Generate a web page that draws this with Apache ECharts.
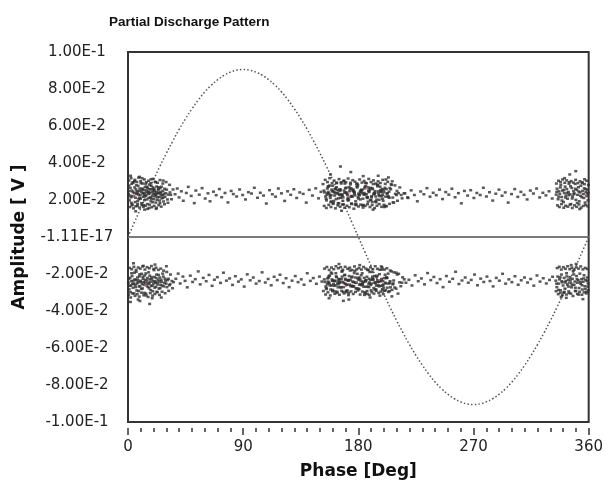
<!DOCTYPE html>
<html>
<head>
<meta charset="utf-8">
<script src="https://cdn.jsdelivr.net/npm/echarts@6/dist/echarts.min.js"></script>
<style>html,body{margin:0;padding:0;background:#fff}#c{width:606px;height:486px}</style>
</head>
<body>
<div id="c"></div>
<script>
// ---- tick labels ----
const xTickLabels = ['0','90','180','270','360'];
const yTickLabels = ['-1.00E-1','-8.00E-2','-6.00E-2','-4.00E-2','-2.00E-2','-1.11E-17','2.00E-2','4.00E-2','6.00E-2','8.00E-2','1.00E-1'];

// ---- reference sine (phase deg, amplitude V) ----
const sinePhase = [0,5,10,15,20,25,30,35,40,45,50,55,60,65,70,75,80,85,90,95,100,105,110,115,120,125,130,135,140,145,150,155,160,165,170,175,180,185,190,195,200,205,210,215,220,225,230,235,240,245,250,255,260,265,270,275,280,285,290,295,300,305,310,315,320,325,330,335,340,345,350,355,360];
const sineAmp = [0,.0079,.0157,.0234,.0310,.0383,.0453,.0519,.0582,.0640,.0693,.0741,.0784,.0820,.0850,.0874,.0891,.0902,.0905,.0902,.0891,.0874,.0850,.0820,.0784,.0741,.0693,.0640,.0582,.0519,.0453,.0383,.0310,.0234,.0157,.0079,0,
-.0079,-.0157,-.0234,-.0310,-.0383,-.0453,-.0519,-.0582,-.0640,-.0693,-.0741,-.0784,-.0820,-.0850,-.0874,-.0891,-.0902,-.0905,-.0902,-.0891,-.0874,-.0850,-.0820,-.0784,-.0741,-.0693,-.0640,-.0582,-.0519,-.0453,-.0383,-.0310,-.0234,-.0157,-.0079,0];

// ---- zero line ----
const zeroLine = [[0,0],[360,0]];

// ---- positive discharges, phase 0-36 ----
const p1 = [[0.4,.0232],[1.1,.0198],[1.8,.0265],[2.3,.0214],[2.9,.0287],[3.4,.0176],[3.8,.0243],[4.5,.0221],[5.1,.0302],[5.6,.0189],[6.2,.0257],[6.7,.0233],[7.3,.0168],[7.9,.0276],[8.4,.0205],[8.8,.0249],[9.5,.0228],[10.1,.0291],[10.6,.0183],[11.2,.0262],[11.7,.0217],[12.3,.0239],[12.9,.0199],[13.4,.0271],[14.0,.0226],[14.6,.0254],[15.1,.0178],[15.7,.0244],[16.2,.0211],[16.8,.0283],[17.3,.0236],[17.9,.0193],[18.5,.0259],[19.0,.0222],[19.6,.0268],[20.2,.0204],[20.7,.0247],[21.3,.0231],[21.8,.0186],[22.4,.0273],[23.0,.0215],[23.5,.0252],[24.1,.0238],[24.7,.0197],[25.2,.0264],[25.8,.0226],[26.5,.0209],[27.3,.0249],[28.1,.0233],[29.0,.0218],[30.2,.0256],[31.5,.0229],[32.8,.0241],
[0.8,.0278],[1.5,.0224],[2.6,.0185],[3.1,.0251],[4.1,.0296],[4.9,.0238],[5.9,.0212],[6.5,.0281],[7.0,.0247],[7.6,.0194],[8.1,.0229],[9.2,.0262],[9.8,.0207],[10.4,.0245],[11.0,.0318],[11.5,.0236],[12.1,.0172],[12.6,.0255],[13.2,.0219],[13.8,.0288],[14.3,.0241],[14.9,.0203],[15.4,.0266],[16.0,.0232],[16.5,.0157],[17.1,.0258],[17.6,.0214],[18.2,.0277],[18.8,.0245],[19.3,.0188],[19.9,.0234],[20.5,.0261],[21.0,.0219],[21.6,.0296],[22.1,.0242],[22.7,.0201],[23.3,.0236],[23.8,.0269],[24.4,.0216],[25.0,.0183],[25.5,.0244],[26.1,.0272],[27.0,.0225],[27.8,.0192],[28.6,.0261],[29.5,.0237],[30.8,.0203],[33.4,.0228],
[2.0,.0331],[6.0,.0139],[9.0,.0325],[13.0,.0148],[18.0,.0312],[22.0,.0152],[27.5,.0305]];
const p1Edge = [[0.7,.0305],[1.4,.0162],[2.4,.0318],[3.0,.0171],[3.7,.0294],[4.3,.0155],[5.4,.0309],[6.0,.0166],[6.9,.0298],[7.5,.0178],[8.3,.0321],[9.0,.0159],[9.9,.0302],[10.8,.0174],[11.4,.0289],[12.0,.0163],[12.8,.0311],[13.6,.0169],[14.4,.0296],[15.3,.0152],[16.1,.0304],[16.9,.0175],[17.7,.0291],[18.6,.0161],[19.5,.0314],[20.4,.0168],[21.2,.0299],[22.2,.0158],[23.1,.0293],[24.0,.0172],[25.0,.0308],[26.0,.0164],[27.2,.0289],[28.5,.0177],[29.8,.0297],[31.2,.0185],[32.5,.0282],[34.0,.0204],[35.2,.0257],
[1.0,.0248],[3.6,.0221],[5.2,.0268],[7.2,.0239],[9.0,.0213],[10.9,.0256],[12.7,.0229],[14.7,.0272],[16.3,.0244],[18.3,.0207],[20.1,.0253],[21.9,.0228],[23.7,.0261],[25.6,.0236],[27.4,.0212]];

// ---- positive discharges, phase 152-218 ----
const p2Phase = [153.6,155.1,156.3,157.9,159.2,160.4,161.8,163.1,164.5,165.7,167.2,168.4,169.9,171.2,172.5,173.8,175.3,176.6,177.9,179.1,180.6,181.9,183.2,184.6,185.8,187.3,188.5,189.9,191.2,192.6,193.9,195.2,196.7,198.0,199.4,200.8,202.3,204.1,206.5,209.8,
154.4,155.8,157.2,158.5,159.9,161.2,162.6,163.8,165.1,166.5,167.9,169.2,170.5,171.9,173.2,174.6,175.9,177.3,178.6,180.0,181.3,182.7,184.0,185.2,186.7,188.0,189.4,190.7,192.0,193.4,194.7,196.1,197.4,198.8,200.1,201.6,203.2,205.3,207.7,211.4,
153.1,154.8,156.0,157.5,158.9,160.1,161.5,162.9,164.2,165.4,166.8,168.1,169.5,170.8,172.1,173.5,174.8,176.2,177.5,178.9,180.2,181.5,182.9,184.3,185.5,186.9,188.2,189.6,190.9,192.3,193.6,195.0,196.3,197.7,199.0,200.4,201.9,203.7,206.0,208.9,
155.4,156.7,158.1,159.5,160.8,162.2,163.5,164.8,166.1,167.5,168.8,170.2,171.5,172.8,174.2,175.6,176.9,178.2,179.6,180.9,182.3,183.6,184.9,186.3,187.6,189.0,190.3,191.6,193.0,194.3,195.7,197.0,198.4,199.7,201.1,202.8,204.6,206.9,210.2,213.5];
const p2Amp = [.0241,.0198,.0272,.0223,.0256,.0184,.0237,.0291,.0209,.0249,.0226,.0176,.0263,.0232,.0203,.0284,.0218,.0245,.0193,.0268,.0229,.0252,.0171,.0238,.0275,.0214,.0247,.0201,.0259,.0233,.0188,.0281,.0221,.0243,.0196,.0266,.0235,.0212,.0301,.0227,
.0219,.0262,.0234,.0189,.0277,.0243,.0205,.0253,.0228,.0296,.0196,.0239,.0267,.0213,.0248,.0181,.0257,.0225,.0287,.0208,.0244,.0236,.0173,.0271,.0217,.0251,.0199,.0264,.0231,.0192,.0283,.0226,.0254,.0207,.0242,.0311,.0221,.0258,.0186,.0237,
.0251,.0207,.0236,.0278,.0192,.0246,.0224,.0269,.0183,.0258,.0231,.0214,.0289,.0239,.0197,.0261,.0222,.0248,.0176,.0273,.0234,.0203,.0255,.0228,.0292,.0211,.0243,.0265,.0189,.0237,.0219,.0274,.0201,.0247,.0229,.0162,.0259,.0216,.0282,.0233,
.0229,.0274,.0211,.0248,.0195,.0262,.0237,.0182,.0256,.0224,.0305,.0241,.0203,.0269,.0218,.0252,.0234,.0178,.0279,.0226,.0245,.0207,.0263,.0231,.0191,.0258,.0215,.0286,.0239,.0202,.0247,.0272,.0221,.0255,.0168,.0236,.0265,.0213,.0249,.0227];
const p2Out = [[158.3,.0338],[166.9,.0142],[174.1,.0351],[183.8,.0329],[191.5,.0148],[203.5,.0322],[215.7,.0236],[218.4,.0214],[166.0,.0381],[195.5,.0331]];
const p2Edge = [[152.4,.0286],[153.3,.0168],[154.1,.0309],[155.0,.0157],[155.9,.0297],[156.9,.0174],[157.6,.0318],[158.6,.0162],[159.5,.0291],[160.3,.0179],[161.1,.0305],[162.1,.0155],[163.0,.0294],[163.9,.0171],[164.9,.0313],[165.8,.0164],[166.6,.0289],[167.6,.0176],[168.5,.0302],[169.3,.0158],[170.3,.0296],[171.1,.0169],[172.0,.0316],[172.9,.0161],[173.9,.0293],[174.7,.0178],[175.6,.0307],[176.5,.0153],[177.4,.0299],[178.3,.0172],[179.2,.0288],[180.1,.0165],[181.0,.0311],[181.8,.0175],[182.8,.0294],[183.7,.0159],[184.5,.0303],[185.4,.0168],[186.4,.0291],[187.2,.0177],[188.1,.0314],[189.1,.0162],[189.9,.0297],[190.8,.0173],[191.8,.0306],[192.7,.0156],[193.5,.0289],[194.5,.0169],[195.4,.0301],[196.3,.0178],[197.2,.0292],[198.2,.0163],[199.1,.0309],[200.0,.0174],[201.0,.0287],[202.0,.0166],[203.0,.0298],[204.3,.0179],[205.6,.0285],[207.1,.0187],[208.6,.0279],[210.6,.0196],[212.4,.0268],[214.2,.0209],
[156.5,.0244],[158.8,.0226],[161.6,.0258],[164.0,.0235],[166.2,.0212],[168.9,.0251],[171.6,.0229],[174.4,.0263],[177.0,.0241],[179.8,.0216],[182.5,.0255],[185.0,.0232],[187.8,.0268],[190.4,.0221],[193.1,.0248],[195.8,.0236],[198.6,.0259],[201.3,.0218],[204.0,.0245]];

// ---- positive discharges, phase 334-360 ----
const p3 = [[334.6,.0229],[335.3,.0261],[336.1,.0204],[336.8,.0247],[337.4,.0233],[338.2,.0282],[338.9,.0216],[339.5,.0251],[340.3,.0189],[340.9,.0238],[341.6,.0272],[342.2,.0224],[342.9,.0259],[343.5,.0207],[344.2,.0243],[344.8,.0296],[345.5,.0231],[346.1,.0178],[346.8,.0265],[347.4,.0219],[348.1,.0248],[348.7,.0236],[349.4,.0287],[350.0,.0201],[350.7,.0254],[351.3,.0228],[352.0,.0269],[352.6,.0193],[353.3,.0241],[353.9,.0277],[354.6,.0215],[355.2,.0249],[355.9,.0232],[356.5,.0263],[357.2,.0186],[357.8,.0244],[358.5,.0221],[359.1,.0256],[359.6,.0238],
[335.0,.0244],[336.5,.0218],[337.9,.0268],[339.1,.0197],[340.6,.0255],[341.9,.0213],[343.2,.0238],[344.5,.0226],[345.8,.0274],[347.1,.0208],[348.4,.0231],[349.7,.0261],[351.0,.0184],[352.3,.0246],[353.6,.0223],[354.9,.0291],[356.2,.0211],[357.5,.0259],[358.8,.0234],[359.4,.0198],
[345.2,.0338],[349.9,.0356],[353.0,.0151],[341.2,.0318],[356.8,.0312]];
const p3Edge = [[334.8,.0289],[335.6,.0171],[336.4,.0304],[337.1,.0162],[338.0,.0297],[338.8,.0178],[339.6,.0311],[340.5,.0158],[341.3,.0293],[342.0,.0169],[342.8,.0306],[343.7,.0164],[344.6,.0288],[345.4,.0175],[346.3,.0302],[347.2,.0157],[348.0,.0294],[348.9,.0171],[349.8,.0309],[350.6,.0163],[351.5,.0291],[352.4,.0176],[353.2,.0301],[354.1,.0159],[355.0,.0296],[355.8,.0168],[356.7,.0286],[357.6,.0173],[358.4,.0304],[359.2,.0166],[359.8,.0281]];

// ---- positive discharges, sparse band ----
const pSparse = [[36.8,.0231],[38.5,.0262],[39.9,.0214],[41.7,.0247],[43.2,.0196],[45.6,.0238],[47.1,.0271],[49.4,.0222],[51.8,.0183],[53.0,.0251],[55.7,.0229],[57.9,.0264],[60.3,.0208],[62.5,.0236],[64.1,.0193],[66.8,.0245],[68.9,.0226],[71.4,.0259],[73.2,.0215],[75.8,.0238],[78.1,.0187],[80.6,.0249],[82.3,.0232],[84.9,.0219],[87.2,.0257],[89.6,.0227],[91.8,.0203],[94.1,.0242],[96.5,.0235],[98.7,.0266],[101.2,.0212],[103.4,.0239],[105.9,.0224],[108.1,.0181],[110.6,.0253],[112.8,.0231],[115.3,.0218],[117.5,.0262],[119.9,.0236],[122.4,.0195],[124.7,.0247],[127.1,.0228],[129.6,.0258],[131.8,.0211],[134.2,.0241],[136.9,.0233],[139.3,.0186],[141.6,.0255],[144.1,.0224],[146.7,.0263],[148.9,.0209],[150.8,.0244],
[216.4,.0236],[218.9,.0211],[221.3,.0252],[223.8,.0227],[226.1,.0193],[228.7,.0246],[231.2,.0231],[233.6,.0264],[236.0,.0218],[238.5,.0239],[240.9,.0226],[243.4,.0256],[245.8,.0205],[248.3,.0243],[250.7,.0229],[253.1,.0261],[255.6,.0215],[258.2,.0237],[260.5,.0182],[262.9,.0249],[265.4,.0224],[267.8,.0253],[270.3,.0211],[272.6,.0238],[275.2,.0227],[277.7,.0266],[280.1,.0219],[282.5,.0242],[285.0,.0197],[287.4,.0234],[289.9,.0256],[292.3,.0223],[294.8,.0241],[297.1,.0186],[299.7,.0232],[302.2,.0259],[304.6,.0217],[307.0,.0244],[309.5,.0228],[311.9,.0203],[314.4,.0251],[316.8,.0235],[319.3,.0262],[321.7,.0214],[324.2,.0239],[326.6,.0225],[329.0,.0247],[331.5,.0208]];

// ---- negative discharges, phase 0-36 ----
const n1 = [[0.3,-.0247],[0.9,-.0283],[1.6,-.0221],[2.2,-.0262],[2.8,-.0196],[3.5,-.0254],[4.0,-.0236],[4.7,-.0305],[5.3,-.0229],[5.9,-.0271],[6.4,-.0188],[7.1,-.0251],[7.7,-.0234],[8.2,-.0292],[8.9,-.0213],[9.4,-.0266],[10.0,-.0243],[10.7,-.0199],[11.3,-.0278],[11.8,-.0226],[12.5,-.0259],[13.1,-.0208],[13.6,-.0247],[14.2,-.0316],[14.8,-.0235],[15.5,-.0269],[16.1,-.0191],[16.6,-.0253],[17.2,-.0228],[17.8,-.0287],[18.4,-.0217],[19.1,-.0262],[19.7,-.0239],[20.3,-.0179],[20.9,-.0274],[21.5,-.0248],[22.0,-.0222],[22.6,-.0296],[23.2,-.0257],[23.9,-.0205],[24.5,-.0241],[25.1,-.0276],[25.9,-.0231],[26.7,-.0263],[27.6,-.0214],[28.4,-.0249],[29.3,-.0236],[30.4,-.0271],[31.6,-.0226],[32.9,-.0255],[34.3,-.0238],
[0.6,-.0226],[1.3,-.0264],[2.0,-.0298],[2.6,-.0239],[3.2,-.0211],[3.9,-.0274],[4.4,-.0251],[5.0,-.0193],[5.7,-.0258],[6.1,-.0233],[6.8,-.0289],[7.4,-.0219],[8.0,-.0245],[8.6,-.0268],[9.1,-.0202],[9.7,-.0237],[10.4,-.0281],[11.0,-.0253],[11.6,-.0215],[12.2,-.0244],[12.8,-.0302],[13.4,-.0232],[13.9,-.0197],[14.5,-.0261],[15.2,-.0222],[15.8,-.0248],[16.4,-.0277],[17.0,-.0209],[17.5,-.0242],[18.1,-.0265],[18.7,-.0228],[19.4,-.0293],[20.0,-.0251],[20.6,-.0216],[21.2,-.0239],[21.8,-.0269],[22.3,-.0203],[22.9,-.0246],[23.6,-.0231],[24.2,-.0279],[24.8,-.0219],[25.5,-.0258],[26.3,-.0242],[27.1,-.0198],[28.0,-.0267],[28.9,-.0225],[29.8,-.0252],[31.0,-.0233],[32.3,-.0261],[35.6,-.0244],
[1.9,-.0351],[4.3,-.0142],[7.9,-.0338],[12.0,-.0156],[16.9,-.0362],[21.1,-.0149],[26.0,-.0327],[9.3,-.0346],[18.9,-.0331],[30.0,-.0158]];
const n1Edge = [[0.5,-.0312],[1.2,-.0167],[2.1,-.0327],[2.9,-.0174],[3.6,-.0305],[4.6,-.0161],[5.5,-.0318],[6.3,-.0178],[7.2,-.0309],[8.0,-.0165],[8.8,-.0322],[9.6,-.0171],[10.5,-.0301],[11.4,-.0159],[12.3,-.0315],[13.2,-.0176],[14.0,-.0306],[14.9,-.0163],[15.7,-.0324],[16.7,-.0169],[17.4,-.0303],[18.3,-.0157],[19.2,-.0317],[20.1,-.0173],[21.0,-.0308],[21.9,-.0166],[22.8,-.0299],[23.7,-.0178],[24.6,-.0313],[25.6,-.0171],[26.6,-.0296],[27.8,-.0182],[29.0,-.0304],[30.3,-.0189],[31.8,-.0291],[33.2,-.0203],[34.8,-.0277]];

// ---- negative discharges, phase 152-215 ----
const n2Phase = [153.9,155.2,156.6,157.8,159.3,160.6,162.0,163.3,164.7,166.0,167.4,168.7,170.1,171.4,172.8,174.0,175.5,176.8,178.1,179.5,180.8,182.2,183.5,184.8,186.2,187.5,188.9,190.2,191.6,192.9,194.3,195.6,197.0,198.3,199.7,201.0,202.5,204.4,206.8,210.3,
154.6,156.0,157.3,158.7,160.0,161.4,162.7,164.1,165.4,166.8,168.1,169.5,170.8,172.2,173.5,174.9,176.2,177.6,178.9,180.3,181.6,183.0,184.3,185.7,187.0,188.4,189.7,191.1,192.4,193.8,195.1,196.5,197.8,199.2,200.5,202.0,203.8,205.9,208.4,212.2,
153.4,154.9,156.3,157.6,159.0,160.3,161.7,163.0,164.4,165.7,167.1,168.4,169.8,171.1,172.5,173.8,175.2,176.5,177.9,179.2,180.6,181.9,183.3,184.6,186.0,187.3,188.7,190.0,191.4,192.7,194.1,195.4,196.8,198.1,199.5,200.9,202.6,204.8,207.3,209.6,
155.7,157.0,158.4,159.7,161.1,162.4,163.8,165.1,166.5,167.8,169.2,170.5,171.9,173.2,174.6,175.9,177.3,178.6,180.0,181.3,182.7,184.0,185.4,186.7,188.1,189.4,190.8,192.1,193.5,194.8,196.2,197.5,198.9,200.2,201.7,203.3,205.1,207.6,211.0,214.1];
const n2Amp = [-.0243,-.0281,-.0219,-.0262,-.0198,-.0254,-.0236,-.0302,-.0227,-.0271,-.0184,-.0249,-.0232,-.0289,-.0211,-.0266,-.0241,-.0195,-.0277,-.0224,-.0258,-.0207,-.0246,-.0313,-.0233,-.0268,-.0189,-.0252,-.0229,-.0284,-.0216,-.0261,-.0238,-.0176,-.0274,-.0247,-.0221,-.0293,-.0256,-.0203,
-.0267,-.0224,-.0251,-.0192,-.0286,-.0239,-.0213,-.0272,-.0248,-.0228,-.0297,-.0205,-.0258,-.0236,-.0181,-.0263,-.0244,-.0219,-.0279,-.0231,-.0254,-.0196,-.0269,-.0241,-.0308,-.0226,-.0259,-.0214,-.0247,-.0283,-.0234,-.0201,-.0264,-.0238,-.0291,-.0218,-.0252,-.0186,-.0273,-.0245,
-.0229,-.0276,-.0241,-.0208,-.0262,-.0235,-.0294,-.0217,-.0256,-.0244,-.0187,-.0271,-.0226,-.0259,-.0302,-.0233,-.0214,-.0266,-.0248,-.0199,-.0282,-.0237,-.0255,-.0221,-.0269,-.0178,-.0246,-.0288,-.0231,-.0211,-.0263,-.0242,-.0317,-.0227,-.0257,-.0204,-.0274,-.0239,-.0251,-.0193,
-.0255,-.0212,-.0284,-.0237,-.0264,-.0196,-.0249,-.0228,-.0273,-.0243,-.0206,-.0291,-.0234,-.0257,-.0219,-.0268,-.0183,-.0246,-.0279,-.0225,-.0261,-.0241,-.0299,-.0215,-.0253,-.0232,-.0189,-.0276,-.0244,-.0209,-.0267,-.0238,-.0285,-.0222,-.0251,-.0198,-.0272,-.0235,-.0306,-.0247];
const n2Out = [[157.1,-.0331],[164.9,-.0146],[172.6,-.0338],[181.1,-.0152],[189.2,-.0327],[197.9,-.0159],[206.2,-.0321],[215.9,-.0229],[168.3,-.0345]];
const n2Edge = [[152.7,-.0292],[153.6,-.0171],[154.4,-.0311],[155.4,-.0162],[156.2,-.0299],[157.2,-.0178],[158.1,-.0316],[159.0,-.0165],[159.8,-.0293],[160.8,-.0174],[161.6,-.0307],[162.5,-.0158],[163.5,-.0296],[164.3,-.0169],[165.2,-.0312],[166.2,-.0163],[167.0,-.0291],[167.9,-.0177],[168.9,-.0305],[169.7,-.0161],[170.6,-.0298],[171.6,-.0172],[172.3,-.0314],[173.3,-.0166],[174.3,-.0294],[175.1,-.0179],[176.0,-.0308],[177.0,-.0159],[177.8,-.0297],[178.7,-.0175],[179.7,-.0289],[180.5,-.0168],[181.4,-.0311],[182.4,-.0176],[183.2,-.0295],[184.1,-.0162],[185.1,-.0304],[185.9,-.0171],[186.8,-.0292],[187.8,-.0178],[188.6,-.0313],[189.5,-.0164],[190.5,-.0298],[191.3,-.0174],[192.2,-.0306],[193.2,-.0158],[194.0,-.0291],[194.9,-.0172],[195.9,-.0302],[196.8,-.0177],[197.6,-.0295],[198.6,-.0165],[199.5,-.0309],[200.4,-.0176],[201.4,-.0288],[202.3,-.0169],[203.5,-.0297],[204.9,-.0181],[206.3,-.0286],[207.9,-.0191],[209.5,-.0279],[211.5,-.0199],[213.2,-.0266],
[156.9,-.0246],[159.4,-.0229],[162.2,-.0261],[164.6,-.0238],[167.3,-.0214],[169.9,-.0253],[172.4,-.0232],[175.2,-.0266],[177.7,-.0244],[180.4,-.0219],[183.1,-.0257],[185.6,-.0235],[188.3,-.0271],[191.0,-.0224],[193.6,-.0251],[196.4,-.0239],[199.0,-.0262],[201.8,-.0222],[204.5,-.0248]];

// ---- negative discharges, phase 334-360 ----
const n3 = [[334.3,-.0236],[335.1,-.0271],[335.8,-.0214],[336.6,-.0252],[337.2,-.0229],[338.0,-.0288],[338.7,-.0203],[339.3,-.0245],[340.0,-.0262],[340.8,-.0221],[341.4,-.0279],[342.1,-.0238],[342.7,-.0196],[343.4,-.0256],[344.0,-.0231],[344.7,-.0303],[345.3,-.0217],[346.0,-.0249],[346.6,-.0272],[347.3,-.0226],[347.9,-.0184],[348.6,-.0258],[349.2,-.0241],[349.9,-.0293],[350.5,-.0211],[351.2,-.0247],[351.8,-.0234],[352.5,-.0276],[353.1,-.0198],[353.8,-.0253],[354.4,-.0228],[355.1,-.0284],[355.7,-.0242],[356.4,-.0207],[357.0,-.0266],[357.7,-.0233],[358.3,-.0297],[359.0,-.0219],[359.5,-.0251],
[334.9,-.0252],[336.3,-.0286],[337.7,-.0218],[339.0,-.0239],[340.4,-.0301],[341.7,-.0246],[343.0,-.0213],[344.3,-.0268],[345.7,-.0235],[347.0,-.0259],[348.3,-.0202],[349.6,-.0274],[350.9,-.0228],[352.2,-.0311],[353.5,-.0244],[354.8,-.0261],[356.1,-.0224],[357.4,-.0281],[358.7,-.0237],[359.3,-.0268],
[342.5,-.0329],[350.2,-.0146],[355.5,-.0336],[346.3,-.0152],[338.5,-.0324]];
const n3Edge = [[334.5,-.0293],[335.4,-.0168],[336.2,-.0309],[337.0,-.0161],[337.8,-.0301],[338.6,-.0176],[339.4,-.0314],[340.2,-.0163],[341.0,-.0297],[341.8,-.0172],[342.6,-.0311],[343.5,-.0158],[344.4,-.0294],[345.2,-.0174],[346.1,-.0306],[346.9,-.0166],[347.7,-.0319],[348.6,-.0177],[349.5,-.0291],[350.3,-.0164],[351.2,-.0308],[352.1,-.0171],[352.9,-.0296],[353.8,-.0159],[354.7,-.0312],[355.5,-.0175],[356.4,-.0299],[357.3,-.0167],[358.1,-.0305],[358.9,-.0173],[359.7,-.0289]];

// ---- negative discharges, sparse band ----
const nSparse = [[37.4,-.0226],[39.2,-.0198],[40.8,-.0251],[42.9,-.0214],[44.6,-.0237],[46.3,-.0272],[48.7,-.0209],[50.5,-.0243],[52.6,-.0228],[54.9,-.0186],[56.4,-.0256],[58.8,-.0221],[61.1,-.0239],[63.3,-.0205],[65.7,-.0264],[67.5,-.0231],[69.8,-.0217],[72.3,-.0248],[74.6,-.0193],[76.9,-.0236],[79.4,-.0224],[81.7,-.0259],[83.9,-.0212],[86.3,-.0241],[88.5,-.0229],[90.8,-.0268],[93.2,-.0202],[95.5,-.0234],[97.9,-.0219],[100.1,-.0252],[102.6,-.0238],[104.8,-.0191],[107.3,-.0246],[109.5,-.0227],[111.9,-.0261],[114.2,-.0215],[116.6,-.0233],[118.8,-.0204],[121.3,-.0249],[123.5,-.0223],[125.9,-.0271],[128.2,-.0236],[130.7,-.0211],[132.9,-.0244],[135.4,-.0229],[137.6,-.0258],[140.1,-.0196],[142.5,-.0237],[144.8,-.0222],[147.2,-.0253],[149.6,-.0214],[151.5,-.0241],
[214.6,-.0218],[217.2,-.0247],[219.5,-.0231],[221.9,-.0262],[224.4,-.0207],[226.8,-.0239],[229.3,-.0224],[231.7,-.0256],[234.1,-.0195],[236.6,-.0233],[239.0,-.0216],[241.5,-.0249],[243.9,-.0228],[246.2,-.0271],[248.8,-.0211],[251.2,-.0242],[253.7,-.0226],[256.0,-.0188],[258.6,-.0254],[261.0,-.0235],[263.5,-.0219],[265.9,-.0247],[268.2,-.0232],[270.8,-.0203],[273.1,-.0261],[275.6,-.0225],[278.0,-.0243],[280.5,-.0214],[282.9,-.0238],[285.3,-.0267],[287.8,-.0221],[290.2,-.0236],[292.7,-.0199],[295.1,-.0252],[297.6,-.0229],[300.0,-.0244],[302.4,-.0212],[304.9,-.0258],[307.3,-.0234],[309.8,-.0219],[312.2,-.0246],[314.7,-.0227],[317.1,-.0263],[319.6,-.0208],[322.0,-.0241],[324.5,-.0223],[326.9,-.0251],[329.4,-.0232],[331.8,-.0215]];

// ---- a few highlighted (pink) discharges ----
const pinkPts = [[4.5,.0222],[172.4,.0236],[186.1,.0262],[357.6,.0228],[13.8,-.0262],[170.2,-.0266],[178.5,-.0243],[196.3,-.0232]];

// ---- build ----
const zip = (ph, am) => ph.map((p, i) => [p, am[i]]);
const sineData = zip(sinePhase, sineAmp);
const discharges = [].concat(
  p1, p1Edge, zip(p2Phase, p2Amp), p2Out, p2Edge, p3, p3Edge, pSparse,
  n1, n1Edge, zip(n2Phase, n2Amp), n2Out, n2Edge, n3, n3Edge, nSparse);

const FONT = 'DejaVu Sans';
const chart = echarts.init(document.getElementById('c'), null, {renderer: 'canvas'});
chart.setOption({
  animation: false,
  backgroundColor: '#ffffff',
  title: {
    text: 'Partial Discharge Pattern',
    left: 104, top: 10,
    textStyle: {fontFamily: 'Liberation Sans', fontSize: 13.5, fontWeight: 'bold', color: '#111'}
  },
  grid: {left: 128, right: 12, top: 52, bottom: 64, show: true, borderColor: '#333', borderWidth: 2, backgroundColor: 'transparent'},
  xAxis: [
    {
      type: 'value', min: 0, max: 360, interval: 90,
      name: 'Phase [Deg]', nameLocation: 'middle', nameGap: 41,
      nameTextStyle: {fontFamily: FONT, fontSize: 17, fontWeight: 'bold', color: '#111'},
      axisLine: {show: false}, axisTick: {show: false}, axisLabel: {show: false}, splitLine: {show: false}
    },
    {
      type: 'value', min: 0, max: 360, interval: 90, position: 'bottom', offset: 6,
      axisLine: {show: false},
      axisTick: {show: true, length: 7, lineStyle: {color: '#333', width: 1.5}},
      minorTick: {show: true, splitNumber: 9, length: 4, lineStyle: {color: '#333', width: 1.5}},
      axisLabel: {margin: 12, fontFamily: FONT, fontSize: 15, color: '#222',
        formatter: v => xTickLabels[Math.round(v / 90)]},
      splitLine: {show: false}, minorSplitLine: {show: false}
    }
  ],
  yAxis: {
    type: 'value', min: -0.1, max: 0.1, interval: 0.02,
    name: 'Amplitude [ V ]', nameLocation: 'middle', nameGap: 100,
    nameTextStyle: {fontFamily: FONT, fontSize: 17, fontWeight: 'bold', color: '#111'},
    axisLine: {show: false}, axisTick: {show: false}, splitLine: {show: false},
    axisLabel: {margin: 51, align: 'center', fontFamily: FONT, fontSize: 15, color: '#222',
      formatter: v => yTickLabels[Math.round((v + 0.1) / 0.02)]}
  },
  series: [
    {type: 'line', data: zeroLine, showSymbol: false, symbol: 'none', silent: true,
      lineStyle: {color: '#7a7a7a', width: 2}, z: 1},
    {type: 'line', data: sineData, showSymbol: false, symbol: 'none', smooth: true, silent: true,
      lineStyle: {color: '#555', width: 1.5, type: [1.5, 2.2]}, z: 2},
    {type: 'scatter', data: discharges, symbol: 'rect', symbolSize: [3, 2.5], silent: true,
      itemStyle: {color: '#303030'}, z: 3},
    {type: 'scatter', data: pinkPts, symbol: 'rect', symbolSize: [2, 2], silent: true,
      itemStyle: {color: '#d46a8c'}, z: 4}
  ]
});
</script>
</body>
</html>
